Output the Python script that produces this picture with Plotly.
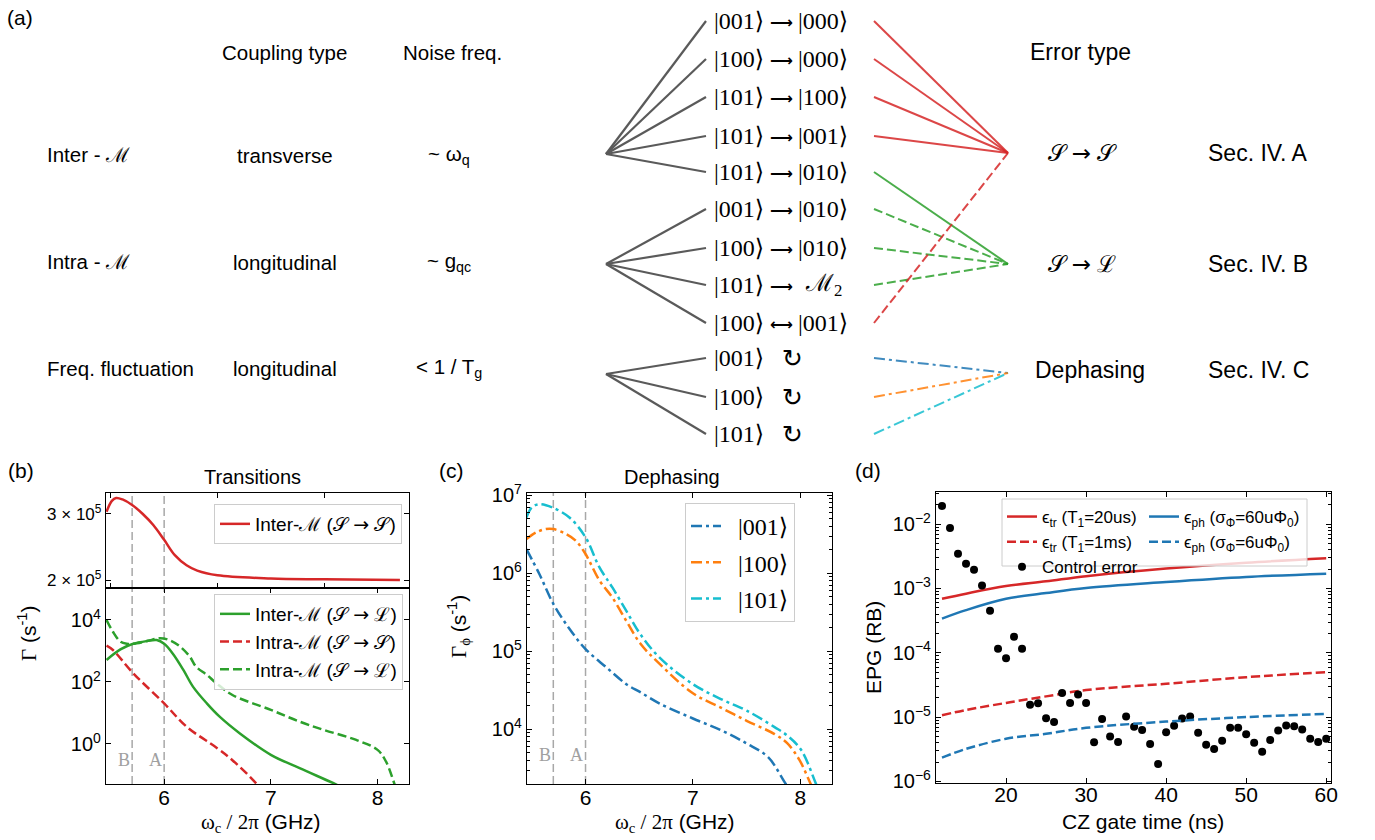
import plotly.graph_objects as go

W, H = 1375, 840
SANS = "Liberation Sans, Arial, sans-serif"
SERIF = "Liberation Serif, DejaVu Serif, serif"

# ---------------- data ----------------
# (b) upper: Inter-M (S->S)
b_top_x = [5.46, 5.51, 5.55, 5.61, 5.70, 5.80, 5.90, 6.00, 6.10, 6.21, 6.31, 6.50, 7.00, 7.50, 8.21]
b_inter_SS = [3.04e5, 3.25e5, 3.31e5, 3.28e5, 3.17e5, 3.00e5, 2.80e5, 2.56e5, 2.33e5, 2.19e5, 2.12e5, 2.06e5, 2.02e5, 2.01e5, 2.00e5]
# (b) lower
b_inter_SL_x = [5.46, 5.59, 5.71, 5.84, 5.93, 6.00, 6.08, 6.18, 6.27, 6.40, 6.52, 6.71, 7.00, 7.27, 7.61, 7.70]
b_inter_SL = [513, 1120, 1700, 2090, 2240, 1700, 832, 245, 70.8, 20.4, 7.6, 2.19, 0.447, 0.166, 0.050, 0.035]
b_intra_SS_x = [5.46, 5.52, 5.71, 6.00, 6.21, 6.50, 6.64, 6.87, 6.95]
b_intra_SS = [1480, 1070, 191, 20.4, 3.63, 0.72, 0.30, 0.050, 0.02]
b_intra_SL_x = [5.46, 5.52, 5.59, 5.65, 5.71, 5.84, 5.96, 6.05, 6.15, 6.24, 6.30, 6.40, 6.49, 6.64,
                7.00, 7.27, 7.50, 7.80, 8.00, 8.08, 8.16, 8.20]
b_intra_SL = [1.0e4, 4170, 2000, 1700, 1700, 2090, 2570, 2240, 1380, 661, 309, 170, 91, 38,
              12.6, 5.25, 2.82, 1.35, 0.646, 0.269, 0.050, 0.02]
# (c) dephasing
c_001_x = [5.45, 5.57, 5.70, 5.85, 6.00, 6.19, 6.38, 6.51, 6.69, 7.00, 7.26, 7.50, 7.70, 7.87, 7.95]
c_001 = [2.04e6, 9.8e5, 4.07e5, 1.95e5, 1.07e5, 6.3e4, 3.8e4, 3.0e4, 2.14e4, 1.38e4, 9.8e3, 6.6e3, 4.4e3, 1.95e3, 1.4e3]
c_100_x = [5.45, 5.54, 5.63, 5.70, 5.82, 5.91, 6.00, 6.13, 6.25, 6.38, 6.51, 6.69, 7.00, 7.26, 7.50,
           7.76, 7.88, 7.99, 8.10, 8.15]
c_100 = [2.75e6, 3.35e6, 3.7e6, 3.7e6, 3.19e6, 2.62e6, 1.77e6, 8.1e5, 4.9e5, 2.45e5, 1.26e5, 6.9e4, 2.9e4,
         1.9e4, 1.29e4, 8.7e3, 6.6e3, 4.1e3, 1.95e3, 1.4e3]
c_101_x = [5.45, 5.50, 5.57, 5.69, 5.85, 6.00, 6.13, 6.25, 6.38, 6.51, 6.69, 7.00, 7.26, 7.50, 7.76,
           7.88, 8.01, 8.15, 8.20]
c_101 = [5.2e6, 7.0e6, 7.7e6, 7.0e6, 5.2e6, 2.9e6, 1.19e6, 6.6e5, 3.3e5, 1.66e5, 8.3e4, 3.8e4, 2.45e4,
         1.74e4, 1.07e4, 8.3e3, 5.4e3, 1.95e3, 1.4e3]
# (d) EPG vs CZ gate time
d_t = [12, 15, 20, 25, 30, 40, 50, 60]
d_tr_20us = [6.9e-4, 8.3e-4, 1.09e-3, 1.29e-3, 1.55e-3, 2.04e-3, 2.51e-3, 2.95e-3]
d_tr_1ms = [1.07e-5, 1.29e-5, 1.66e-5, 2.1e-5, 2.63e-5, 3.3e-5, 4.17e-5, 5.0e-5]
d_ph_60 = [3.4e-4, 4.6e-4, 6.9e-4, 8.5e-4, 1.02e-3, 1.26e-3, 1.51e-3, 1.70e-3]
d_ph_6 = [2.34e-6, 3.2e-6, 4.6e-6, 5.5e-6, 6.8e-6, 8.5e-6, 1.0e-5, 1.12e-5]
ctrl_t = list(range(12, 61))
ctrl_err = [1.92e-2, 8.7e-3, 3.46e-3, 2.42e-3, 1.95e-3, 1.11e-3, 4.5e-4, 1.16e-4, 8.2e-5, 1.78e-4,
            1.16e-4, 1.55e-5, 1.64e-5, 9.6e-6, 8.4e-6, 2.37e-5, 1.66e-5, 2.24e-5, 1.66e-5, 4.07e-6,
            9.3e-6, 5.0e-6, 4.1e-6, 1.02e-5, 7.1e-6, 6.3e-6, 3.8e-6, 1.86e-6, 5.8e-6, 7.3e-6,
            9.5e-6, 1.02e-5, 5.7e-6, 3.7e-6, 3.2e-6, 4.3e-6, 6.8e-6, 6.8e-6, 5.4e-6, 4.0e-6,
            2.9e-6, 4.4e-6, 6.2e-6, 7.4e-6, 7.2e-6, 6.4e-6, 4.6e-6, 4.1e-6, 4.6e-6]
# working points (GHz) marked in (b) and (c)
work_points = [5.7, 6.0]
work_labels = ["B", "A"]
work_label_x = [5.62, 5.92]

# (a) schematic contents
ARROW = '<span style="font-family:DejaVu Sans">→</span>'
row_labels = ["Inter - ", "Intra - ", "Freq. fluctuation"]
coupling = ["transverse", "longitudinal", "longitudinal"]
noise_freq = ["~ ω<sub>q</sub>", "~ g<sub>qc</sub>", "< 1 / T<sub>g</sub>"]
error_type = ["𝒮 " + ARROW + " 𝒮", "𝒮 " + ARROW + " ℒ", "Dephasing"]
sections = ["Sec. IV. A", "Sec. IV. B", "Sec. IV. C"]
ket_left = ["|001⟩", "|100⟩", "|101⟩", "|101⟩", "|101⟩", "|001⟩", "|100⟩", "|101⟩", "|100⟩",
            "|001⟩", "|100⟩", "|101⟩"]
ket_arrow = ["⟶"] * 8 + ["⟷"] + ["↻"] * 3
ket_right = ["|000⟩", "|000⟩", "|100⟩", "|001⟩", "|010⟩", "|010⟩", "|010⟩", "ℳ<sub>2</sub>", "|001⟩",
             "", "", ""]
row_group = [0, 0, 0, 0, 0, 1, 1, 1, 1, 2, 2, 2]
row_target = [0, 0, 0, 0, 1, 1, 1, 1, 0, 2, 2, 2]

# ---------------- layout geometry (pixels) ----------------
group_y = [154, 264, 374]
row_y = [21, 59, 97, 136, 172, 209, 248, 285, 323, 358, 397, 434]
target_y = [153, 264, 373]
RED, GREEN, BLUE, ORANGE, CYAN = "#d62728", "#2ca02c", "#1f77b4", "#ff7f0e", "#17becf"
row_color = [RED] * 4 + [GREEN] * 4 + [RED, BLUE, ORANGE, CYAN]
row_dash = ["solid"] * 5 + ["dash"] * 4 + ["dashdot"] * 3
DASH = "9px,4px"
DASHDOT = "11px,4px,3px,4px"


def px_x(x):
    return x / W


def px_y(y):
    return 1 - y / H


fig = go.Figure()

# ---- schematic lines on an invisible pixel-space axis ----
for i, y in enumerate(row_y):
    fig.add_trace(go.Scatter(x=[606, 706], y=[group_y[row_group[i]], y], mode="lines",
                             line=dict(color="#5a5a5a", width=2.2), xaxis="x5", yaxis="y5",
                             showlegend=False, hoverinfo="skip"))
    d = {"solid": "solid", "dash": DASH, "dashdot": DASHDOT}[row_dash[i]]
    fig.add_trace(go.Scatter(x=[874, 1008], y=[y, target_y[row_target[i]]], mode="lines",
                             line=dict(color=row_color[i], width=2, dash=d), opacity=0.85,
                             xaxis="x5", yaxis="y5", showlegend=False, hoverinfo="skip"))

# ---- (b) upper ----
fig.add_trace(go.Scatter(x=b_top_x, y=b_inter_SS, mode="lines", line=dict(color=RED, width=2.5, shape="spline"),
                         name="Inter-ℳ (𝒮 " + ARROW + " 𝒮)", xaxis="x", yaxis="y", legend="legend"))
# ---- (b) lower ----
fig.add_trace(go.Scatter(x=b_inter_SL_x, y=b_inter_SL, mode="lines",
                         line=dict(color=GREEN, width=2.5, shape="spline"),
                         name="Inter-ℳ (𝒮 " + ARROW + " ℒ)", xaxis="x2", yaxis="y2", legend="legend2"))
fig.add_trace(go.Scatter(x=b_intra_SS_x, y=b_intra_SS, mode="lines",
                         line=dict(color=RED, width=2.5, dash=DASH, shape="spline"),
                         name="Intra-ℳ (𝒮 " + ARROW + " 𝒮)", xaxis="x2", yaxis="y2", legend="legend2"))
fig.add_trace(go.Scatter(x=b_intra_SL_x, y=b_intra_SL, mode="lines",
                         line=dict(color=GREEN, width=2.5, dash=DASH, shape="spline"),
                         name="Intra-ℳ (𝒮 " + ARROW + " ℒ)", xaxis="x2", yaxis="y2", legend="legend2"))
# ---- (c) ----
for xs, ys, col, nm in [(c_001_x, c_001, BLUE, "|001⟩"), (c_100_x, c_100, ORANGE, "|100⟩"),
                        (c_101_x, c_101, CYAN, "|101⟩")]:
    fig.add_trace(go.Scatter(x=xs, y=ys, mode="lines", line=dict(color=col, width=2.5, dash=DASHDOT, shape="spline"),
                             name="  " + nm, legendgroup=nm, xaxis="x3", yaxis="y3", legend="legend3"))
# ---- (d) ----
fig.add_trace(go.Scatter(x=d_t, y=d_tr_20us, mode="lines", line=dict(color=RED, width=2.5, shape="spline"),
                         name="ϵ<sub>tr</sub> (T<sub>1</sub>=20us)", xaxis="x4", yaxis="y4", legend="legend4"))
fig.add_trace(go.Scatter(x=d_t, y=d_tr_1ms, mode="lines", line=dict(color=RED, width=2.5, dash=DASH, shape="spline"),
                         name="ϵ<sub>tr</sub> (T<sub>1</sub>=1ms)", xaxis="x4", yaxis="y4", legend="legend4"))
fig.add_trace(go.Scatter(x=ctrl_t, y=ctrl_err, mode="markers", marker=dict(color="black", size=8),
                         name="Control error", xaxis="x4", yaxis="y4", legend="legend4"))
fig.add_trace(go.Scatter(x=d_t, y=d_ph_60, mode="lines", line=dict(color=BLUE, width=2.5, shape="spline"),
                         name="ϵ<sub>ph</sub> (σ<sub>Φ</sub>=60uΦ<sub>0</sub>)", xaxis="x4", yaxis="y4",
                         legend="legend5"))
fig.add_trace(go.Scatter(x=d_t, y=d_ph_6, mode="lines", line=dict(color=BLUE, width=2.5, dash=DASH, shape="spline"),
                         name="ϵ<sub>ph</sub> (σ<sub>Φ</sub>=6uΦ<sub>0</sub>)", xaxis="x4", yaxis="y4",
                         legend="legend5"))

# ---------------- axes ----------------
tickfont = dict(family=SANS, size=21, color="black")
base_ax = dict(showline=True, linecolor="black", linewidth=1.3, mirror="allticks", ticks="inside",
               ticklen=5, tickwidth=1.2, tickcolor="black", showgrid=False, zeroline=False,
               tickfont=tickfont, automargin=False)
freq_range = [5.455, 8.295]


def dec_text(p):
    return "10<sup>" + (str(p) if p >= 0 else "−" + str(-p)) + "</sup>"


def minors(lo, hi):
    return [m * 10 ** p for p in range(lo, hi) for m in range(2, 10)]


b_left, b_right = px_x(106), px_x(409)
c_left, c_right = px_x(527), px_x(832)
d_left, d_right = px_x(936), px_x(1331)
yfont = dict(family=SANS, size=20, color="black")

fig.update_layout(
    xaxis=dict(base_ax, domain=[b_left, b_right], range=freq_range, tickvals=[5.5, 6.5, 7.5],
               showticklabels=False, anchor="y"),
    yaxis=dict(base_ax, domain=[px_y(588), px_y(493)], type="log", range=[5.280, 5.533],
               tickvals=[2e5, 3e5], ticktext=["2 × 10<sup>5</sup>", "3 × 10<sup>5</sup>"],
               tickfont=dict(family=SANS, size=17, color="black"), anchor="x"),
    xaxis2=dict(base_ax, domain=[b_left, b_right], range=freq_range, tickvals=[6, 7, 8], anchor="y2",
                ticklabelstandoff=-5),
    yaxis2=dict(base_ax, domain=[px_y(784), px_y(588)], type="log", range=[-1.29, 5.03],
                tickvals=[1, 1e2, 1e4], ticktext=[dec_text(0), dec_text(2), dec_text(4)],
                tickfont=yfont, anchor="x2"),
    xaxis3=dict(base_ax, domain=[c_left, c_right], range=freq_range, tickvals=[6, 7, 8], anchor="y3",
                ticklabelstandoff=-5),
    yaxis3=dict(base_ax, domain=[px_y(784), px_y(493)], type="log", range=[3.30, 7.03],
                tickvals=[1e4, 1e5, 1e6, 1e7], ticktext=[dec_text(p) for p in range(4, 8)],
                minor=dict(tickvals=minors(3, 7), ticks="inside", ticklen=3, tickcolor="black"),
                tickfont=yfont, anchor="x3"),
    xaxis4=dict(base_ax, domain=[d_left, d_right], range=[11.25, 60.6], tickvals=[20, 30, 40, 50, 60],
                anchor="y4", ticklabelstandoff=-7),
    yaxis4=dict(base_ax, domain=[px_y(783), px_y(492)], type="log", range=[-6.025, -1.50],
                tickvals=[1e-6, 1e-5, 1e-4, 1e-3, 1e-2], ticktext=[dec_text(p) for p in range(-6, -1)],
                minor=dict(tickvals=minors(-7, -1), ticks="inside", ticklen=3, tickcolor="black"),
                tickfont=yfont, anchor="x4"),
    xaxis5=dict(domain=[0, 1], range=[0, W], visible=False, fixedrange=True, anchor="y5"),
    yaxis5=dict(domain=[0, 1], range=[H, 0], visible=False, fixedrange=True, anchor="x5"),
)

# ---------------- legends ----------------
leg_base = dict(xref="paper", yref="paper", xanchor="left", yanchor="top", bgcolor="rgba(255,255,255,0.8)",
                bordercolor="#cccccc", borderwidth=1, font=dict(family=SANS, size=19, color="black"),
                itemwidth=30, tracegroupgap=0)
fig.update_layout(
    legend=dict(leg_base, x=px_x(214), y=px_y(504)),
    legend2=dict(leg_base, x=px_x(214), y=px_y(594)),
    legend3=dict(leg_base, x=px_x(685), y=px_y(503), font=dict(family=SERIF, size=24, color="black"),
                 tracegroupgap=2),
    legend4=dict(leg_base, x=px_x(1002), y=px_y(499), bgcolor="rgba(0,0,0,0)", borderwidth=0,
                 font=dict(family=SANS, size=17, color="black")),
    legend5=dict(leg_base, x=px_x(1144), y=px_y(499), bgcolor="rgba(0,0,0,0)", borderwidth=0,
                 font=dict(family=SANS, size=17, color="black")),
)

# ---------------- shapes ----------------
shapes = []
for ax in ["", "2", "3"]:
    for xv in work_points:
        shapes.append(dict(type="line", xref="x" + ax, yref=("y" + ax) + " domain", x0=xv, x1=xv, y0=0, y1=1,
                           line=dict(color="#a8a8a8", width=1.5, dash="8px,4px"), layer="below"))
shapes.append(dict(type="rect", xref="paper", yref="paper", x0=px_x(1002), x1=px_x(1307), y0=px_y(566),
                   y1=px_y(499), fillcolor="rgba(255,255,255,0.8)", line=dict(color="#cccccc", width=1),
                   layer="above"))
fig.update_layout(shapes=shapes)

# ---------------- annotations ----------------
ann = []


def txt(x, y, s, size=19, family=SANS, xanchor="center", color="black", angle=0):
    ann.append(dict(x=x, y=y, xref="x5", yref="y5", text=s, showarrow=False, xanchor=xanchor,
                    yanchor="middle", textangle=angle, font=dict(family=family, size=size, color=color)))


# panel labels
txt(5, 17, "(a)", 21, xanchor="left")
txt(6, 470, "(b)", 21, xanchor="left")
txt(437, 470, "(c)", 21, xanchor="left")
txt(853, 470, "(d)", 21, xanchor="left")
# schematic headers and rows
txt(284, 52, "Coupling type", 20.5)
txt(452, 52, "Noise freq.", 20.5)
txt(1080, 52, "Error type", 23)
scriptM = '<span style="font-family:DejaVu Serif">ℳ</span>'
for i in range(3):
    y = group_y[i] + (1 if i == 0 else (-2 if i == 1 else -6))
    lab = row_labels[i] + (scriptM if i < 2 else "")
    txt(45, y, lab, 20.5, xanchor="left")
    txt(285, y, coupling[i], 20.5)
    txt(449, y, noise_freq[i], 20.5)
    txt(1082 if i < 2 else 1090, target_y[i] + (0 if i < 2 else -3), error_type[i],
        size=23, family=(SERIF if i < 2 else SANS))
    txt(1258, target_y[i] + (0 if i < 2 else -3), sections[i], 23)
for i, y in enumerate(row_y):
    txt(739, y, ket_left[i], 24, SERIF)
    if ket_arrow[i] == "↻":
        txt(792, y, ket_arrow[i], 25, "DejaVu Sans")
    else:
        txt(781, y + 1, "<b>" + ket_arrow[i] + "</b>", 16, "DejaVu Sans")
    if ket_right[i]:
        txt(823, y, ket_right[i], 24, SERIF)
# subplot titles
txt(252, 477, "Transitions", 20)
txt(672, 477, "Dephasing", 20)
# axis titles
xlab = '<span style="font-family:Liberation Serif">ω<sub>c</sub> / 2π</span> (GHz)'
txt(261, 823, xlab, 21)
txt(675, 823, xlab, 21)
txt(27, 633, '<span style="font-family:Liberation Serif">Γ</span> (s<sup>-1</sup>)', 21, angle=-90)
txt(458, 627, '<span style="font-family:Liberation Serif">Γ<sub>ϕ</sub></span> (s<sup>-1</sup>)', 21, angle=-90)
txt(1143, 821, "CZ gate time (ns)", 21)
txt(873, 648, "EPG (RB)", 21, angle=-90)

# B / A markers
for ax in ["2", "3"]:
    for xv, lab in zip(work_label_x, work_labels):
        ann.append(dict(x=xv, y=0.06, xref="x" + ax, yref="y" + ax + " domain", text=lab, showarrow=False,
                        font=dict(family=SERIF, size=18, color="#a0a0a0")))
fig.update_layout(annotations=ann)

fig.update_layout(width=W, height=H, margin=dict(l=0, r=0, t=0, b=0, pad=0, autoexpand=False),
                  paper_bgcolor="white", plot_bgcolor="rgba(0,0,0,0)", showlegend=True)
fig.write_html("out.html")
